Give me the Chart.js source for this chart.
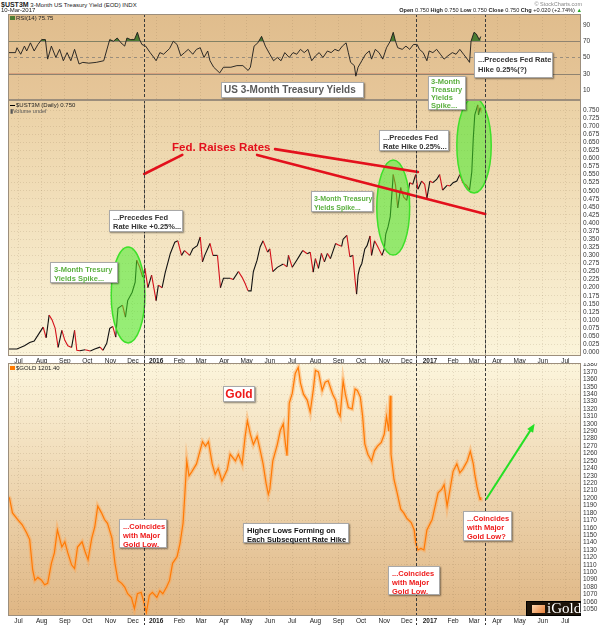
<!DOCTYPE html>
<html><head><meta charset="utf-8">
<script src="https://cdn.jsdelivr.net/npm/chart.js@4.4.1/dist/chart.umd.min.js"></script>
<style>
body{margin:0;background:#fff;width:604px;height:625px;overflow:hidden;position:relative;font-family:"Liberation Sans",Arial,sans-serif}
canvas{position:absolute;left:0}
.t{position:absolute;white-space:nowrap;color:#222;font-size:6px;line-height:7px}
.box{position:absolute;background:#fff;border:1px solid #a8a8a8;box-shadow:1px 1px 1.5px rgba(0,0,0,.45);font-weight:bold;font-size:7.5px;line-height:9px;padding:2px 3px;box-sizing:border-box;white-space:nowrap;color:#333}
.g{color:#5cb040}
.r{color:#ee1a1a}
</style></head><body>
<canvas id="c1" width="604" height="86" style="top:14px"></canvas>
<canvas id="c2" width="604" height="263" style="top:100px"></canvas>
<canvas id="c3" width="604" height="262" style="top:363px"></canvas>

<div class="t" style="left:1px;top:1px"><b style="font-size:7px">$UST3M</b> 3-Month US Treasury Yield (EOD) INDX</div>
<div class="t" style="left:1px;top:7px">10-Mar-2017</div>
<div class="t" style="right:22px;top:1px;font-size:5.5px;color:#888">© StockCharts.com</div>
<div class="t" style="right:22px;top:7px;font-size:5.6px"><b>Open</b> 0.750 <b>High</b> 0.750 <b>Low</b> 0.750 <b>Close</b> 0.750 <b>Chg</b> +0.020 (+2.74%) <span style="color:#2a2">▲</span></div>
<div class="t" style="left:10px;top:15px"><span style="display:inline-block;width:5px;height:4px;background:#4d7d33;margin-right:1px"></span>RSI(14) 75.75</div>
<div class="t" style="left:10px;top:102px"><span style="display:inline-block;width:5px;height:1px;background:#000;vertical-align:middle;margin-right:1px"></span>$UST3M (Daily) 0.750</div>
<div class="t" style="left:10px;top:108px;font-size:5.5px;color:#555">▮Volume undef</div>
<div class="t" style="left:10px;top:365px"><span style="display:inline-block;width:5px;height:4px;background:#ff7a00;margin-right:1px"></span>$GOLD 1201.40</div>

<div class="box" style="left:474px;top:52px;width:79px;height:26px;line-height:10px">...Precedes Fed Rate<br>Hike 0.25%(?)</div>
<div class="box" style="left:221px;top:82px;width:143px;height:16px;font-size:10px;line-height:12px;padding:1px 2px;color:#5a5a5a">US 3-Month Treasury Yields</div>
<div class="box g" style="left:428px;top:76px;width:38px;height:34px;line-height:8px;padding:1px 2px">3-Month<br>Treasury<br>Yields<br>Spike...</div>
<div class="t" style="left:172px;top:141px;font-size:11.5px;line-height:13px;font-weight:bold;color:#e3101c">Fed. Raises Rates</div>
<div class="box" style="left:109px;top:210px;width:74px;height:22px">...Precedes Fed<br>Rate Hike +0.25%...</div>
<div class="box g" style="left:50px;top:262px;width:68px;height:21px">3-Month Tresury<br>Yields Spike...</div>
<div class="box g" style="left:311px;top:191px;width:62px;height:21px;font-size:7px;padding:2px 2px">3-Month Treasury<br>Yields Spike...</div>
<div class="box" style="left:379px;top:130px;width:70px;height:21px">...Precedes Fed<br>Rate Hike 0.25%...</div>
<div class="box r" style="left:223px;top:386px;width:32px;height:16px;font-size:12px;line-height:12px;padding:1px 0;text-align:center">Gold</div>
<div class="box r" style="left:119px;top:519px;width:48px;height:29px">...Coincides<br>with Major<br>Gold Low.</div>
<div class="box" style="left:243px;top:523px;width:106px;height:20px;color:#111">Higher Lows Forming on<br>Each Subsequent Rate Hike</div>
<div class="box r" style="left:388px;top:566px;width:52px;height:29px">...Coincides<br>with Major<br>Gold Low.</div>
<div class="box r" style="left:463px;top:511px;width:49px;height:30px">...Coincides<br>with Major<br>Gold Low?</div>
<div style="position:absolute;left:526px;top:601px;width:55px;height:15px;background:#1e1409;box-sizing:border-box;border:1px solid #000">
 <div style="position:absolute;left:5px;top:3px;width:13px;height:8px;background:linear-gradient(135deg,#ffd9b0,#e8803a)"></div>
 <div style="position:absolute;left:20px;top:-2px;font-family:'Liberation Serif',serif;font-size:15px;line-height:17px;color:#fff">iGold</div>
</div>

<script>
// ---------- DATA ----------
const monthTicks = ['2015-07-01','2015-08-01','2015-09-01','2015-10-01','2015-11-01','2015-12-01','2016-01-01','2016-02-01','2016-03-01','2016-04-01','2016-05-01','2016-06-01','2016-07-01','2016-08-01','2016-09-01','2016-10-01','2016-11-01','2016-12-01','2017-01-01','2017-02-01','2017-03-01','2017-04-01','2017-05-01','2017-06-01','2017-07-01'];
const monthLabels = ['Jul','Aug','Sep','Oct','Nov','Dec','2016','Feb','Mar','Apr','May','Jun','Jul','Aug','Sep','Oct','Nov','Dec','2017','Feb','Mar','Apr','May','Jun','Jul'];
const fedHikeDates = ['2015-12-16','2016-12-14','2017-03-15'];

const rsiTickLabels = ['10','30','50','70','90'];
const yieldTickLabels = ['0.000','0.025','0.050','0.075','0.100','0.125','0.150','0.175','0.200','0.225','0.250','0.275','0.300','0.325','0.350','0.375','0.400','0.425','0.450','0.475','0.500','0.525','0.550','0.575','0.600','0.625','0.650','0.675','0.700','0.725','0.750'];
const goldTickLabels = ['1050','1060','1070','1080','1090','1100','1110','1120','1130','1140','1150','1160','1170','1180','1190','1200','1210','1220','1230','1240','1250','1260','1270','1280','1290','1300','1310','1320','1330','1340','1350','1360','1370','1380'];

const rsiDates = ['2015-06-17','2015-06-27','2015-06-29','2015-07-04','2015-07-09','2015-07-12','2015-07-17','2015-07-22','2015-07-27','2015-08-01','2015-08-06','2015-08-09','2015-08-14','2015-08-20','2015-08-25','2015-08-30','2015-09-04','2015-09-09','2015-09-14','2015-09-20','2015-09-25','2015-10-03','2015-10-13','2015-10-23','2015-10-31','2015-11-05','2015-11-10','2015-11-15','2015-11-20','2015-11-23','2015-11-28','2015-12-03','2015-12-07','2015-12-10','2015-12-13','2015-12-18','2015-12-24','2015-12-29','2016-01-01','2016-01-06','2016-01-11','2016-01-19','2016-01-24','2016-01-29','2016-02-03','2016-02-08','2016-02-13','2016-02-19','2016-02-24','2016-02-29','2016-03-05','2016-03-10','2016-03-13','2016-03-18','2016-03-26','2016-03-31','2016-04-10','2016-04-18','2016-04-26','2016-05-03','2016-05-06','2016-05-11','2016-05-16','2016-05-21','2016-05-26','2016-06-01','2016-06-06','2016-06-11','2016-06-16','2016-06-21','2016-06-27','2016-07-02','2016-07-07','2016-07-12','2016-07-17','2016-07-22','2016-07-27','2016-08-01','2016-08-06','2016-08-11','2016-08-17','2016-08-22','2016-08-27','2016-09-01','2016-09-06','2016-09-11','2016-09-14','2016-09-17','2016-09-22','2016-09-24','2016-09-27','2016-10-02','2016-10-07','2016-10-12','2016-10-15','2016-10-20','2016-10-25','2016-10-30','2016-11-04','2016-11-09','2016-11-13','2016-11-16','2016-11-19','2016-11-25','2016-11-30','2016-12-05','2016-12-10','2016-12-15','2016-12-18','2016-12-23','2016-12-28','2016-12-31','2017-01-05','2017-01-10','2017-01-15','2017-01-20','2017-01-25','2017-01-31','2017-02-05','2017-02-10','2017-02-15','2017-02-20','2017-02-23','2017-02-25','2017-03-01','2017-03-04','2017-03-08','2017-03-10'];
const rsiValues = [56,56,62,54,64,58,68,58,66,72,72,48,64,50,60,46,56,46,60,42,44,43,44,46,72,70,74,68,64,74,72,72,81,72,66,64,56,50,46,56,54,61,70,66,52,56,60,54,60,62,50,58,46,38,31,38,38,40,40,34,38,64,68,76,64,54,46,50,46,56,50,56,54,60,56,60,46,52,56,50,58,56,60,58,64,68,56,44,40,27,38,46,54,58,48,60,56,48,62,70,81,70,62,60,64,60,66,66,60,56,46,58,56,60,54,48,52,56,54,60,54,48,44,70,81,79,72,75.75];

const yieldDates = ['2015-06-16','2015-06-29','2015-07-09','2015-07-16','2015-07-22','2015-07-29','2015-08-03','2015-08-07','2015-08-11','2015-08-15','2015-08-19','2015-08-23','2015-08-28','2015-09-01','2015-09-05','2015-09-10','2015-09-14','2015-09-17','2015-09-21','2015-09-28','2015-10-05','2015-10-11','2015-10-18','2015-10-22','2015-10-27','2015-10-31','2015-11-04','2015-11-08','2015-11-11','2015-11-17','2015-11-21','2015-11-24','2015-11-30','2015-12-04','2015-12-06','2015-12-10','2015-12-14','2015-12-17','2015-12-21','2015-12-26','2016-01-01','2016-01-04','2016-01-09','2016-01-13','2016-01-20','2016-01-26','2016-01-30','2016-02-04','2016-02-08','2016-02-15','2016-02-19','2016-02-25','2016-02-29','2016-03-03','2016-03-06','2016-03-13','2016-03-17','2016-03-23','2016-03-27','2016-03-31','2016-04-09','2016-04-13','2016-04-20','2016-04-25','2016-04-29','2016-05-03','2016-05-07','2016-05-10','2016-05-15','2016-05-19','2016-05-23','2016-05-29','2016-06-01','2016-06-05','2016-06-11','2016-06-19','2016-06-24','2016-06-26','2016-07-01','2016-07-07','2016-07-11','2016-07-15','2016-07-21','2016-07-25','2016-07-29','2016-08-01','2016-08-05','2016-08-09','2016-08-13','2016-08-17','2016-08-21','2016-08-24','2016-08-28','2016-08-31','2016-09-05','2016-09-07','2016-09-12','2016-09-16','2016-09-20','2016-09-23','2016-09-25','2016-09-27','2016-09-29','2016-10-02','2016-10-06','2016-10-09','2016-10-13','2016-10-15','2016-10-19','2016-10-23','2016-10-29','2016-11-01','2016-11-03','2016-11-06','2016-11-09','2016-11-13','2016-11-16','2016-11-19','2016-11-23','2016-11-27','2016-12-01','2016-12-05','2016-12-09','2016-12-13','2016-12-16','2016-12-21','2016-12-25','2016-12-28','2017-01-01','2017-01-05','2017-01-10','2017-01-14','2017-01-18','2017-01-24','2017-01-28','2017-02-01','2017-02-06','2017-02-10','2017-02-14','2017-02-19','2017-02-23','2017-02-26','2017-02-28','2017-03-02','2017-03-06','2017-03-07','2017-03-09','2017-03-10'];
const yieldValues = [0.010,0.010,0.020,0.030,0.035,0.060,0.078,0.045,0.115,0.100,0.075,0.015,0.068,0.037,0.020,0.015,0.068,0.006,0.005,0.008,0.004,0.010,0.016,0.006,0.028,0.074,0.080,0.047,0.136,0.146,0.109,0.160,0.186,0.217,0.285,0.264,0.233,0.260,0.200,0.239,0.160,0.208,0.200,0.245,0.306,0.341,0.345,0.300,0.315,0.300,0.320,0.330,0.357,0.280,0.300,0.337,0.300,0.300,0.200,0.229,0.229,0.225,0.250,0.232,0.213,0.190,0.190,0.250,0.285,0.326,0.345,0.310,0.320,0.250,0.263,0.273,0.265,0.300,0.263,0.285,0.300,0.315,0.305,0.310,0.248,0.290,0.260,0.306,0.280,0.306,0.290,0.310,0.337,0.333,0.328,0.350,0.362,0.296,0.300,0.223,0.180,0.240,0.260,0.275,0.320,0.330,0.360,0.300,0.345,0.328,0.300,0.320,0.366,0.388,0.420,0.550,0.518,0.447,0.510,0.480,0.470,0.525,0.520,0.550,0.505,0.530,0.520,0.477,0.530,0.525,0.535,0.550,0.502,0.517,0.515,0.525,0.530,0.550,0.525,0.517,0.502,0.558,0.663,0.735,0.766,0.735,0.757,0.750];

const goldDates = ['2015-06-16','2015-06-19','2015-06-23','2015-06-30','2015-07-06','2015-07-12','2015-07-16','2015-07-20','2015-07-23','2015-07-27','2015-08-01','2015-08-05','2015-08-09','2015-08-14','2015-08-18','2015-08-22','2015-08-28','2015-09-01','2015-09-05','2015-09-10','2015-09-14','2015-09-18','2015-09-24','2015-09-28','2015-10-02','2015-10-07','2015-10-11','2015-10-15','2015-10-20','2015-10-24','2015-10-28','2015-11-03','2015-11-07','2015-11-11','2015-11-16','2015-11-20','2015-11-24','2015-11-29','2015-12-03','2015-12-07','2015-12-12','2015-12-16','2015-12-19','2015-12-23','2015-12-27','2016-01-02','2016-01-06','2016-01-10','2016-01-15','2016-01-19','2016-01-23','2016-01-29','2016-02-02','2016-02-06','2016-02-08','2016-02-11','2016-02-14','2016-02-18','2016-02-24','2016-03-03','2016-03-07','2016-03-11','2016-03-16','2016-03-20','2016-03-24','2016-03-29','2016-04-05','2016-04-09','2016-04-16','2016-04-20','2016-04-25','2016-04-29','2016-05-02','2016-05-06','2016-05-10','2016-05-15','2016-05-19','2016-05-23','2016-05-27','2016-05-30','2016-06-01','2016-06-05','2016-06-11','2016-06-15','2016-06-19','2016-06-22','2016-06-24','2016-06-27','2016-07-01','2016-07-05','2016-07-09','2016-07-12','2016-07-16','2016-07-21','2016-07-25','2016-07-29','2016-08-01','2016-08-05','2016-08-10','2016-08-14','2016-08-18','2016-08-24','2016-08-28','2016-08-31','2016-09-03','2016-09-07','2016-09-10','2016-09-14','2016-09-19','2016-09-23','2016-09-26','2016-09-30','2016-10-03','2016-10-06','2016-10-10','2016-10-15','2016-10-19','2016-10-23','2016-10-28','2016-11-01','2016-11-04','2016-11-07','2016-11-09','2016-11-10','2016-11-14','2016-11-18','2016-11-23','2016-11-27','2016-12-01','2016-12-07','2016-12-11','2016-12-13','2016-12-16','2016-12-20','2016-12-24','2016-12-28','2017-01-04','2017-01-08','2017-01-12','2017-01-17','2017-01-20','2017-01-24','2017-01-28','2017-02-01','2017-02-06','2017-02-10','2017-02-14','2017-02-20','2017-02-24','2017-02-28','2017-03-02','2017-03-05','2017-03-09','2017-03-10'];
const goldValues = [1202,1200,1180,1171,1164,1153,1144,1103,1089,1093,1089,1083,1085,1112,1126,1157,1134,1141,1126,1110,1105,1134,1141,1128,1117,1146,1161,1189,1180,1171,1166,1146,1112,1089,1085,1080,1071,1066,1051,1071,1073,1058,1046,1069,1073,1066,1075,1071,1080,1089,1112,1121,1139,1166,1198,1250,1230,1236,1246,1276,1270,1276,1246,1232,1240,1223,1238,1259,1250,1259,1246,1283,1304,1286,1272,1283,1265,1246,1220,1205,1212,1250,1272,1291,1300,1272,1257,1328,1341,1368,1376,1355,1340,1332,1316,1345,1372,1370,1345,1356,1358,1340,1332,1316,1310,1358,1340,1322,1320,1347,1345,1336,1311,1273,1259,1250,1264,1270,1275,1286,1310,1290,1338,1259,1225,1208,1185,1180,1173,1167,1157,1140,1130,1132,1130,1157,1171,1189,1207,1212,1218,1189,1212,1236,1246,1234,1239,1250,1263,1246,1232,1215,1198,1201];

// ---------- annotations (in data coordinates) ----------
const ellipses = [
  {from:'2015-11-02', to:'2015-12-17', lo:0.029, hi:0.326},
  {from:'2016-10-22', to:'2016-12-05', lo:0.301, hi:0.595},
  {from:'2017-02-06', to:'2017-03-24', lo:0.493, hi:0.787}
];
const redLines = [
  [['2015-12-16',0.552],['2016-02-05',0.611]],
  [['2016-06-08',0.629],['2016-12-16',0.558]],
  [['2016-05-15',0.611],['2017-03-16',0.428]]
];
const greenArrow = [['2017-03-17',1198],['2017-05-21',1300]];

// ---------- helpers ----------
const F = '"Liberation Sans", Arial, sans-serif';
const DAY = 86400000, BASE = Date.parse('2016-01-01');
const toDay = s => (Date.parse(s) - BASE) / DAY;
const xMin = toDay('2015-06-17'), xMax = toDay('2017-07-22');
const pts = (d, v) => d.map((s, i) => ({x: toDay(s), y: v[i]}));

function xScale(showLabels, h){
  return {
    type:'linear', min:xMin, max:xMax,
    afterBuildTicks: ax => { ax.ticks = monthTicks.map(d => ({value: toDay(d)})); },
    ticks:{display:showLabels, autoSkip:false, maxRotation:0, padding:1, color:'#222',
      font: c => ({size:6.5, family:F, weight: /^\d{4}$/.test(monthLabels[c.index]) ? 'bold' : 'normal'}),
      callback:(v,i) => monthLabels[i]},
    grid:{color:'rgba(120,95,60,0.16)', drawTicks:false, lineWidth:1},
    border:{display:false, dash:[1,2]},
    afterFit: ax => { ax.height = h; ax.paddingLeft = 0; ax.paddingRight = 0; }
  };
}
function yScale(min, max, labels, grid){
  return {
    position:'right', min, max,
    afterBuildTicks: ax => { ax.ticks = labels.map(l => ({value: parseFloat(l)})); },
    ticks:{autoSkip:false, padding:2, color:'#333', font:{size:6.5, family:F}, callback:(v,i) => labels[i]},
    grid:{display:grid, color:'rgba(120,95,60,0.16)', drawTicks:false},
    border:{display:false, dash:[1,2]},
    afterFit: ax => { ax.width = 23; ax.paddingTop = 0; ax.paddingBottom = 0; }
  };
}
function makeDeco(cfg){
  return {
    id:'deco',
    beforeDraw(chart){
      const {ctx, chartArea:a} = chart;
      const g = ctx.createLinearGradient(0, a.top, 0, a.bottom);
      g.addColorStop(0, cfg.bg[0]); g.addColorStop(1, cfg.bg[1]);
      ctx.save(); ctx.fillStyle = g; ctx.fillRect(a.left, a.top, a.right - a.left, a.bottom - a.top); ctx.restore();
    },
    beforeDatasetsDraw(chart){
      const {ctx, chartArea:a, scales:{y}} = chart;
      ctx.save();
      (cfg.levels || []).forEach(l => {
        const py = Math.round(y.getPixelForValue(l.v)) + 0.5;
        ctx.strokeStyle = l.c; ctx.lineWidth = 1; ctx.setLineDash(l.dash || []);
        ctx.beginPath(); ctx.moveTo(a.left, py); ctx.lineTo(a.right, py); ctx.stroke();
      });
      ctx.restore();
    },
    afterDatasetsDraw(chart){
      const {ctx, chartArea:a, scales:{x, y}} = chart;
      ctx.save();
      (cfg.ellipses || []).forEach(e => {
        const x0 = x.getPixelForValue(toDay(e.from)), x1 = x.getPixelForValue(toDay(e.to));
        const y0 = y.getPixelForValue(e.hi), y1 = y.getPixelForValue(e.lo);
        ctx.beginPath();
        ctx.ellipse((x0 + x1) / 2, (y0 + y1) / 2, (x1 - x0) / 2, (y1 - y0) / 2, 0, 0, Math.PI * 2);
        ctx.fillStyle = 'rgba(70,235,40,0.55)'; ctx.fill();
        ctx.strokeStyle = '#3ee02a'; ctx.lineWidth = 1.5; ctx.stroke();
      });
      (cfg.lines || []).forEach(l => {
        ctx.beginPath();
        ctx.moveTo(x.getPixelForValue(toDay(l[0][0])), y.getPixelForValue(l[0][1]));
        ctx.lineTo(x.getPixelForValue(toDay(l[1][0])), y.getPixelForValue(l[1][1]));
        ctx.strokeStyle = '#e3101c'; ctx.lineWidth = 2.6; ctx.lineCap = 'round'; ctx.stroke();
      });
      if (cfg.arrow){
        const p0 = [x.getPixelForValue(toDay(cfg.arrow[0][0])), y.getPixelForValue(cfg.arrow[0][1])];
        const p1 = [x.getPixelForValue(toDay(cfg.arrow[1][0])), y.getPixelForValue(cfg.arrow[1][1])];
        const ang = Math.atan2(p1[1] - p0[1], p1[0] - p0[0]);
        ctx.strokeStyle = ctx.fillStyle = '#25e025'; ctx.lineWidth = 2;
        ctx.beginPath(); ctx.moveTo(p0[0], p0[1]);
        ctx.lineTo(p1[0] - 6 * Math.cos(ang), p1[1] - 6 * Math.sin(ang)); ctx.stroke();
        ctx.beginPath(); ctx.moveTo(p1[0], p1[1]);
        ctx.lineTo(p1[0] - 9 * Math.cos(ang - 0.4), p1[1] - 9 * Math.sin(ang - 0.4));
        ctx.lineTo(p1[0] - 9 * Math.cos(ang + 0.4), p1[1] - 9 * Math.sin(ang + 0.4));
        ctx.closePath(); ctx.fill();
      }
      ctx.setLineDash([3, 2]); ctx.strokeStyle = '#3a3a3a'; ctx.lineWidth = 1;
      fedHikeDates.forEach(d => {
        const px = Math.round(x.getPixelForValue(toDay(d))) + 0.5;
        ctx.beginPath(); ctx.moveTo(px, 0); ctx.lineTo(px, chart.height); ctx.stroke();
      });
      ctx.restore();
    },
    afterDraw(chart){
      const {ctx, chartArea:a} = chart;
      ctx.save(); ctx.strokeStyle = '#9c8e7c'; ctx.lineWidth = 1;
      ctx.strokeRect(Math.round(a.left) + 0.5, Math.round(a.top) + 0.5, Math.round(a.right - a.left) - 1, Math.round(a.bottom - a.top) - 1);
      ctx.restore();
    }
  };
}
const base = (extra) => Object.assign({
  responsive:false, animation:false, devicePixelRatio:1,
  layout:{padding:{left:8, right:0, top:0, bottom:0}},
  plugins:{legend:{display:false}, tooltip:{enabled:false}},
  elements:{point:{radius:0}, line:{tension:0}}
}, extra);

// ---------- RSI ----------
new Chart(document.getElementById('c1'), {
  type:'line',
  data:{datasets:[
    {data:pts(rsiDates, rsiValues), borderColor:'#1a1a1a', borderWidth:0.9,
     fill:{target:{value:70}, above:'#4d7d33', below:'rgba(0,0,0,0)'}},
    {data:pts(rsiDates, rsiValues), borderColor:'rgba(0,0,0,0)', borderWidth:0,
     fill:{target:{value:30}, above:'rgba(0,0,0,0)', below:'#a31818'}}
  ]},
  options: base({scales:{x:xScale(false, 0), y:yScale(-2.3, 103.5, rsiTickLabels, false)}}),
  plugins:[makeDeco({bg:['#e0bd8d','#e6c699'], levels:[{v:70,c:'#8f8370'},{v:50,c:'#9a8e7c',dash:[3,3]},{v:30,c:'#8f8370'}]})]
});

// ---------- 3M yield ----------
new Chart(document.getElementById('c2'), {
  type:'line',
  data:{datasets:[
    {data:pts(yieldDates, yieldValues), borderWidth:1.1, borderColor:'#111',
     segment:{borderColor: c => c.p1.parsed.y < c.p0.parsed.y ? '#d4111b' : '#111'}}
  ]},
  options: base({scales:{x:xScale(true, 7), y:yScale(-0.0115, 0.781, yieldTickLabels, true)}}),
  plugins:[makeDeco({bg:['#ebd1a5','#fbf4da'], ellipses:ellipses, lines:redLines})]
});

// ---------- Gold ----------
new Chart(document.getElementById('c3'), {
  type:'line',
  data:{datasets:[
    {data:pts(goldDates, goldValues), borderColor:'#ff7a05', borderWidth:1.2},
    {data:pts(goldDates, goldValues), borderColor:'rgba(255,165,80,0.45)', borderWidth:4}
  ]},
  options: base({scales:{x:xScale(true, 9), y:yScale(1041, 1382, goldTickLabels, true)}}),
  plugins:[makeDeco({bg:['#fcf5dc','#dfb684'], arrow:greenArrow})]
});
</script>
</body></html>
